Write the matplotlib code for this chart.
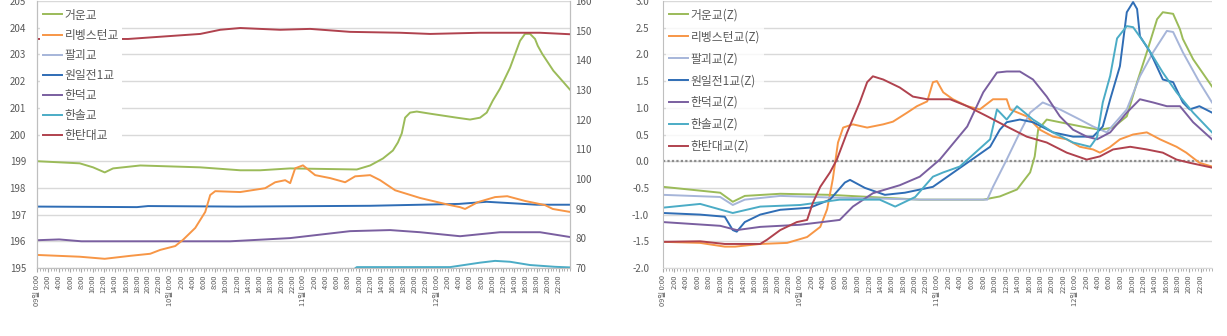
import numpy as np
import matplotlib
matplotlib.use('Agg')
import matplotlib.pyplot as plt
from matplotlib.ticker import MultipleLocator, FormatStrFormatter

plt.rcParams['font.family'] = ['Noto Sans CJK KR', 'DejaVu Sans']

# ====================== DATA ======================
# hours since 09일 0:00
names = ['거운교', '리벵스턴교', '팔괴교', '원일전1교', '한덕교', '한솔교', '한탄대교']
colors = ['#9BBB59', '#F79646', '#A6B5D9', '#2F6DB5', '#7A5FA0', '#4BACC6', '#B0424E']
days = [9, 10, 11, 12]

# --- left chart: water level (left axis 195-205, right axis 70-160)
t_geo = [0, 7.7, 10.1, 12.2, 13.7, 18.6, 29.4, 36.6, 40.2, 45.6, 57.6, 60, 62.3, 64.1, 65, 65.7,
         66.3, 67.2, 68.4, 70.8, 75.6, 78, 79.8, 81, 82.1, 83.4, 85.2, 87, 87.9, 88.8, 89.7, 90.2,
         91, 93, 96]
v_geo = [199.0, 198.92, 198.77, 198.58, 198.73, 198.84, 198.77, 198.66, 198.66, 198.73, 198.69,
         198.84, 199.1, 199.4, 199.7, 200.04, 200.63, 200.82, 200.86, 200.78, 200.63, 200.56,
         200.63, 200.82, 201.27, 201.72, 202.5, 203.51, 203.77, 203.77, 203.58, 203.32, 203.02,
         202.39, 201.68]

t_liv = [0, 7.7, 12.2, 16.8, 20.4, 22.2, 24.9, 26.3, 28.5, 30.3, 31.2, 32.1, 36.6, 41.1, 42.9,
         44.7, 45.6, 46.5, 47.9, 50.1, 52.8, 55.5, 57.3, 60, 61.8, 64.5, 69, 74.4, 76.2, 77.1,
         79.4, 82.5, 84.7, 87.9, 91.5, 92.9, 96]
v_liv = [74.4, 73.8, 73.1, 74.1, 74.8, 76.1, 77.4, 79.5, 83.5, 88.9, 94.6, 95.9, 95.6, 96.9,
         98.9, 99.6, 98.6, 103.6, 104.6, 101.3, 100.3, 98.9, 100.9, 101.3, 99.6, 96.2, 93.6,
         91.2, 90.5, 89.9, 92.2, 93.9, 94.2, 92.6, 91.2, 89.9, 88.9]

t_pal = []
v_pal = []

t_won = [0, 18, 20, 36, 60, 76, 81, 86, 90, 96]
v_won = [197.3, 197.28, 197.32, 197.3, 197.33, 197.4, 197.48, 197.42, 197.37, 197.37]

t_han = [0, 4, 8, 34.8, 45.6, 56.4, 63.6, 69, 76.2, 80, 83.4, 90.6, 96]
v_han = [196.04, 196.07, 196.0, 196.0, 196.12, 196.38, 196.42, 196.34, 196.19, 196.27, 196.34,
         196.34, 196.16]

t_sol = [0, 56, 57.6, 74.4, 76.2, 79.8, 82.5, 85.2, 88.8, 93.3, 96]
v_sol = [68, 68, 70.3, 70.3, 70.8, 71.8, 72.4, 72.1, 71.0, 70.4, 70.2]

t_tan = [0, 16.4, 29.4, 33, 36.6, 43.8, 49.2, 56.4, 65.4, 70.8, 79.8, 90.6, 96]
v_tan = [147.2, 147.2, 148.9, 150.3, 150.9, 150.3, 150.6, 149.6, 149.3, 148.9, 149.3, 149.3, 148.8]

# --- right chart: standardised levels (Z)
tz_geo = [0, 10, 12.2, 14.3, 20.5, 29.2, 37.9, 44.9, 56, 58.9, 61.9, 64.2, 65, 65.6, 67.1, 69.4,
          74.1, 76.4, 78.7, 81.1, 82.9, 84.6, 86.4, 87.4, 89.2, 90.4, 90.9, 92.7, 96]
z_geo = [-0.48, -0.59, -0.76, -0.65, -0.61, -0.63, -0.68, -0.72, -0.72, -0.66, -0.53, -0.21,
         0.09, 0.59, 0.78, 0.73, 0.63, 0.59, 0.63, 0.84, 1.48, 2.04, 2.66, 2.79, 2.76, 2.47,
         2.29, 1.91, 1.40]

tz_liv = [0, 6.5, 10.8, 12.6, 17, 21.7, 25.2, 27.5, 28.7, 29.7, 30.6, 31.5, 33.2, 35.7, 38.5,
          40.2, 42.7, 44.4, 46.2, 47.2, 47.9, 49, 50.7, 53.2, 55.4, 57.7, 60.1, 60.7, 63.6,
          65.9, 68.2, 70.6, 72.9, 75.2, 76.4, 78.1, 79.9, 82.2, 84.6, 86.9, 89.8, 91.5, 93.8, 96]
z_liv = [-1.51, -1.53, -1.6, -1.6, -1.55, -1.53, -1.42, -1.23, -0.9, -0.33, 0.35, 0.63, 0.69,
         0.63, 0.69, 0.74, 0.91, 1.03, 1.12, 1.48, 1.5, 1.29, 1.16, 1.03, 0.97, 1.16, 1.16,
         0.97, 0.84, 0.59, 0.46, 0.41, 0.27, 0.22, 0.16, 0.26, 0.41, 0.5, 0.54, 0.41, 0.27,
         0.16, -0.03, -0.1]

tz_pal = [0, 10, 12.2, 14.3, 20.5, 29.2, 37.9, 44.9, 56.7, 57.7, 60.1, 62.4, 64.2, 66.4, 69.4,
          72.9, 75.2, 77.6, 81.1, 83.4, 85.7, 88.1, 89.2, 90.9, 93.8, 96]
z_pal = [-0.63, -0.67, -0.82, -0.72, -0.65, -0.68, -0.7, -0.72, -0.72, -0.48, 0.03, 0.54, 0.91,
         1.1, 0.97, 0.78, 0.65, 0.54, 0.97, 1.59, 2.04, 2.44, 2.42, 2.04, 1.48, 1.1]

tz_won = [0, 6.5, 10.8, 12.2, 12.9, 14.3, 17, 20.5, 25.7, 29.2, 31.8, 32.7, 35.3, 38.8, 42.3,
          47.2, 53.2, 57.2, 58.9, 60.1, 62.4, 64.7, 68.2, 71.7, 75.2, 76.9, 78.2, 79.9, 81.1,
          82.2, 82.9, 83.4, 85.2, 87.4, 89.2, 90.9, 92.1, 93.8, 96]
z_won = [-0.97, -1.0, -1.04, -1.29, -1.32, -1.14, -1.0, -0.91, -0.87, -0.72, -0.4, -0.35, -0.5,
         -0.63, -0.59, -0.48, -0.03, 0.27, 0.59, 0.73, 0.78, 0.73, 0.54, 0.46, 0.46, 0.65, 1.16,
         1.78, 2.79, 2.98, 2.85, 2.34, 2.04, 1.53, 1.48, 1.1, 0.97, 1.03, 0.91]

tz_han = [0, 10, 12.9, 17, 24, 30.9, 33.2, 36.7, 41.4, 44.9, 48.4, 53.2, 56, 58.4, 60.1, 62.4,
          64.7, 67.1, 69.4, 71.7, 74.1, 75.9, 78.2, 81.1, 83.4, 85.7, 88.1, 90.4, 92.7, 96]
z_han = [-1.14, -1.21, -1.29, -1.23, -1.19, -1.1, -0.85, -0.6, -0.45, -0.29, 0.03, 0.65, 1.29,
         1.66, 1.68, 1.68, 1.53, 1.21, 0.84, 0.59, 0.46, 0.41, 0.54, 0.91, 1.16, 1.1, 1.03,
         1.03, 0.73, 0.41]

tz_sol = [0, 6.5, 12.2, 17, 24, 30.9, 37.9, 40.6, 44.1, 47.2, 49, 51.9, 57.2, 58.4, 60.1, 61.9,
          64.7, 68.2, 71.7, 74.7, 75.9, 76.9, 78.2, 79.4, 81.1, 82.2, 84.6, 87.4, 89.8, 92.7, 96]
z_sol = [-0.87, -0.8, -0.97, -0.85, -0.82, -0.72, -0.72, -0.85, -0.67, -0.29, -0.21, -0.1, 0.41,
         0.97, 0.78, 1.03, 0.78, 0.54, 0.35, 0.27, 0.45, 1.1, 1.6, 2.3, 2.53, 2.51, 2.15, 1.66,
         1.29, 0.91, 0.54]

tz_tan = [0, 6.5, 10.8, 17, 18.2, 20.5, 23.4, 25.2, 26.2, 27.5, 29.2, 30.4, 32.2, 34.4, 35.7,
          36.7, 38.5, 41.4, 43.7, 46.2, 50.2, 53.2, 56.7, 60.1, 63.6, 67.1, 70.6, 74.1, 76.4,
          78.7, 81.7, 84.6, 87.4, 89.8, 92.1, 96]
z_tan = [-1.51, -1.5, -1.55, -1.55, -1.47, -1.29, -1.14, -1.1, -0.78, -0.48, -0.21, 0.03, 0.54,
         1.1, 1.48, 1.59, 1.53, 1.38, 1.21, 1.16, 1.16, 1.03, 0.84, 0.65, 0.46, 0.35, 0.16,
         0.03, 0.09, 0.22, 0.27, 0.22, 0.16, 0.03, -0.03, -0.12]

# x tick labels, every 2 hours
tick_hours = list(range(0, 96, 2))
tick_labels = [f'{days[h // 24]:02d}일 0:00' if h % 24 == 0 else f'{h % 24}:00' for h in tick_hours]

# ====================== PLOT ======================
grid_c = '#D9D9D9'
txt_c = '#595959'

fig = plt.figure(figsize=(12.27, 3.36), dpi=100)
ax1 = fig.add_axes([37 / 1227, 0.2024, 533 / 1227, 0.7946])
ax1r = ax1.twinx()
ax2 = fig.add_axes([663 / 1227, 0.2024, 549 / 1227, 0.7946])


def style_x(ax):
    ax.set_xlim(0, 96)
    ax.set_xticks(tick_hours)
    ax.set_xticklabels(tick_labels, rotation=90, fontsize=5.3, color=txt_c)
    ax.xaxis.set_minor_locator(MultipleLocator(0.5))
    ax.tick_params(axis='x', which='major', length=3, color='#A6A6A6', pad=2)
    ax.tick_params(axis='x', which='minor', length=2, color='#A6A6A6')


# left chart
left_series = [(ax1, t_geo, v_geo), (ax1r, t_liv, v_liv), (ax1, t_pal, v_pal),
               (ax1, t_won, v_won), (ax1, t_han, v_han), (ax1r, t_sol, v_sol),
               (ax1r, t_tan, v_tan)]
handles = []
for (ax, t, v), name, c in zip(left_series, names, colors):
    ln, = ax.plot(t, v, color=c, linewidth=1.4, label=name)
    handles.append(ln)

ax1.set_ylim(195, 205)
ax1r.set_ylim(70, 160)
ax1.yaxis.set_major_locator(MultipleLocator(1))
ax1r.yaxis.set_major_locator(MultipleLocator(10))
ax1.grid(axis='y', color=grid_c, linewidth=1)
ax1.set_axisbelow(True)
style_x(ax1)
ax1r.tick_params(axis='y', length=0, labelsize=7, labelcolor=txt_c, pad=4)
ax1.tick_params(axis='y', length=0, labelsize=7, labelcolor=txt_c, pad=8)
for a in (ax1, ax1r):
    a.spines['top'].set_visible(False)
    a.spines['left'].set_color('#BFBFBF')
    a.spines['right'].set_color('#BFBFBF')
    a.spines['bottom'].set_color('#BFBFBF')

leg = ax1r.legend(handles=handles, loc='upper left', bbox_to_anchor=(0.005, 0.985),
                  fontsize=8.5, frameon=True, handlelength=1.6, handletextpad=0.2,
                  labelspacing=0.6, borderpad=0.3, borderaxespad=0)
leg.get_frame().set_facecolor('white')
leg.get_frame().set_edgecolor('none')
leg.get_frame().set_alpha(1)
for txt in leg.get_texts():
    txt.set_color(txt_c)

# right chart
right_series = [(tz_geo, z_geo), (tz_liv, z_liv), (tz_pal, z_pal), (tz_won, z_won),
                (tz_han, z_han), (tz_sol, z_sol), (tz_tan, z_tan)]
for (t, z), name, c in zip(right_series, names, colors):
    ax2.plot(t, z, color=c, linewidth=1.4, label=name + '(Z)')

ax2.set_ylim(-2.0, 3.0)
ax2.yaxis.set_major_locator(MultipleLocator(0.5))
ax2.yaxis.set_major_formatter(FormatStrFormatter('%.1f'))
ax2.grid(axis='y', color=grid_c, linewidth=1)
ax2.set_axisbelow(True)
ax2.axhline(0, color='#8C8C8C', linewidth=1.6, linestyle=(0, (1, 1)), zorder=1.5)
style_x(ax2)
ax2.tick_params(axis='y', length=0, labelsize=7, labelcolor=txt_c, pad=10)
ax2.spines['top'].set_visible(False)
ax2.spines['right'].set_visible(False)
ax2.spines['left'].set_color('#BFBFBF')
ax2.spines['bottom'].set_color(grid_c)

leg2 = ax2.legend(loc='upper left', bbox_to_anchor=(0.005, 0.985), fontsize=8.5, frameon=True,
                  handlelength=1.6, handletextpad=0.2, labelspacing=0.75, borderpad=0.3,
                  borderaxespad=0)
leg2.get_frame().set_facecolor('white')
leg2.get_frame().set_edgecolor('none')
for txt in leg2.get_texts():
    txt.set_color(txt_c)

plt.savefig('out.png', dpi=100)
